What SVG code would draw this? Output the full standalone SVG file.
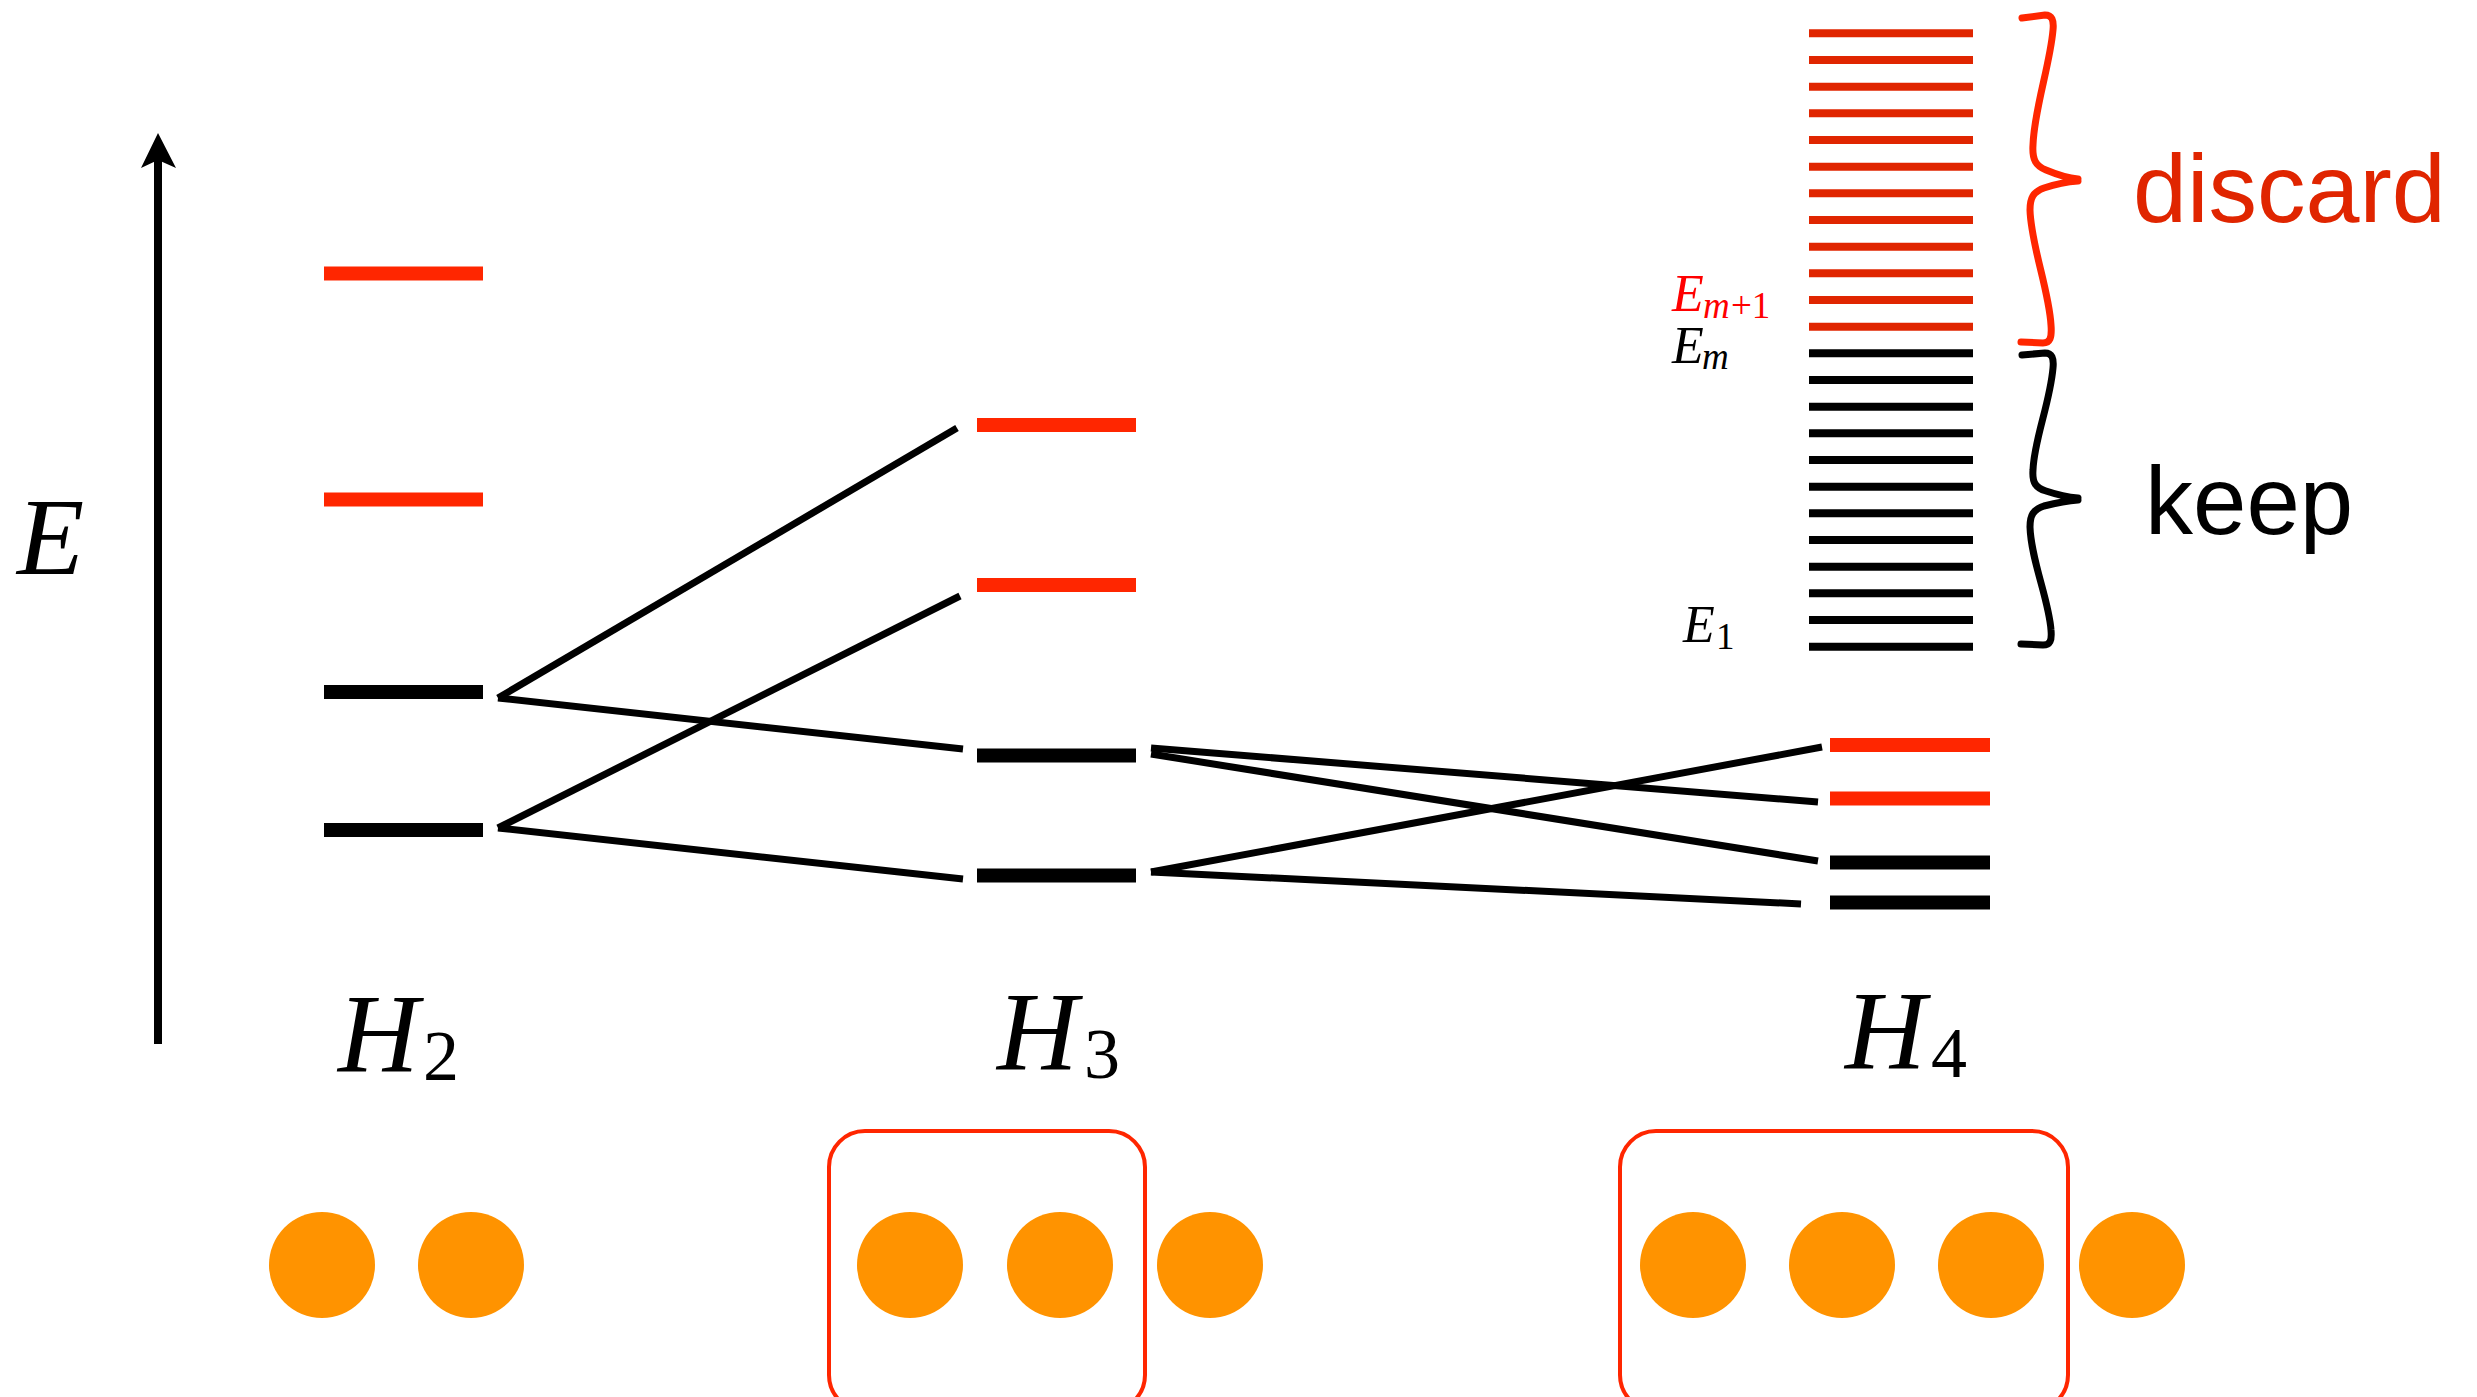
<svg xmlns="http://www.w3.org/2000/svg" width="2477" height="1397" viewBox="0 0 2477 1397">
<style>
.lvr{stroke:#ff2600;stroke-width:14}
.lvb{stroke:#000;stroke-width:14}
.sr{stroke:#e02500;stroke-width:8}
.sb{stroke:#000;stroke-width:8}
.conn line{stroke:#000;stroke-width:7}
.math{font-family:"Liberation Serif","DejaVu Serif",serif}
.it{font-style:italic}
.sans{font-family:"Liberation Sans",Arial,sans-serif}
.dot{fill:#ff9300}
.box{fill:none;stroke:#ff2600;stroke-width:4}
.brace{fill:none;stroke-width:7;stroke-linecap:round;stroke-linejoin:round}
</style>
<rect width="2477" height="1397" fill="#fff"/>
<g id="axis">
<line x1="158" y1="1044" x2="158" y2="158" stroke="#000" stroke-width="8"/>
<polygon points="158,133 141,168 158,160 176,168" fill="#000"/>
<text class="math it" x="17" y="574" font-size="110">E</text>
</g>
<g id="H2">
<line class="lvr" x1="324" y1="273.5" x2="483" y2="273.5"/>
<line class="lvr" x1="324" y1="499.5" x2="483" y2="499.5"/>
<line class="lvb" x1="324" y1="692" x2="483" y2="692"/>
<line class="lvb" x1="324" y1="830" x2="483" y2="830"/>
<text class="math" y="1071" font-size="112"><tspan class="it" x="338">H</tspan><tspan x="423" y="1080" font-size="72">2</tspan></text>
</g>
<g id="H3">
<line class="lvr" x1="977" y1="425" x2="1136" y2="425"/>
<line class="lvr" x1="977" y1="585" x2="1136" y2="585"/>
<line class="lvb" x1="977" y1="755.5" x2="1136" y2="755.5"/>
<line class="lvb" x1="977" y1="875.5" x2="1136" y2="875.5"/>
<text class="math" y="1069" font-size="112"><tspan class="it" x="997">H</tspan><tspan x="1084" y="1078" font-size="72">3</tspan></text>
</g>
<g id="H4">
<line class="lvr" x1="1830" y1="745" x2="1990" y2="745"/>
<line class="lvr" x1="1830" y1="798.5" x2="1990" y2="798.5"/>
<line class="lvb" x1="1830" y1="862.5" x2="1990" y2="862.5"/>
<line class="lvb" x1="1830" y1="902.5" x2="1990" y2="902.5"/>
<text class="math" y="1068" font-size="112"><tspan class="it" x="1845">H</tspan><tspan x="1931" y="1077" font-size="72">4</tspan></text>
</g>
<g id="spectrum">
<line class="sr" x1="1809" y1="33.3" x2="1973" y2="33.3"/>
<line class="sr" x1="1809" y1="60" x2="1973" y2="60"/>
<line class="sr" x1="1809" y1="86.7" x2="1973" y2="86.7"/>
<line class="sr" x1="1809" y1="113.3" x2="1973" y2="113.3"/>
<line class="sr" x1="1809" y1="140" x2="1973" y2="140"/>
<line class="sr" x1="1809" y1="166.7" x2="1973" y2="166.7"/>
<line class="sr" x1="1809" y1="193.3" x2="1973" y2="193.3"/>
<line class="sr" x1="1809" y1="220" x2="1973" y2="220"/>
<line class="sr" x1="1809" y1="246.7" x2="1973" y2="246.7"/>
<line class="sr" x1="1809" y1="273.3" x2="1973" y2="273.3"/>
<line class="sr" x1="1809" y1="300" x2="1973" y2="300"/>
<line class="sr" x1="1809" y1="326.7" x2="1973" y2="326.7"/>
<line class="sb" x1="1809" y1="353.3" x2="1973" y2="353.3"/>
<line class="sb" x1="1809" y1="380" x2="1973" y2="380"/>
<line class="sb" x1="1809" y1="406.7" x2="1973" y2="406.7"/>
<line class="sb" x1="1809" y1="433.3" x2="1973" y2="433.3"/>
<line class="sb" x1="1809" y1="460" x2="1973" y2="460"/>
<line class="sb" x1="1809" y1="486.7" x2="1973" y2="486.7"/>
<line class="sb" x1="1809" y1="513.3" x2="1973" y2="513.3"/>
<line class="sb" x1="1809" y1="540" x2="1973" y2="540"/>
<line class="sb" x1="1809" y1="566.7" x2="1973" y2="566.7"/>
<line class="sb" x1="1809" y1="593.3" x2="1973" y2="593.3"/>
<line class="sb" x1="1809" y1="620" x2="1973" y2="620"/>
<line class="sb" x1="1809" y1="646.7" x2="1973" y2="646.7"/>
<text class="math" y="311" font-size="52" fill="#ff0000"><tspan class="it" x="1672">E</tspan><tspan class="it" x="1703" y="318" font-size="37">m</tspan><tspan x="1731" y="318" font-size="37">+1</tspan></text>
<text class="math" y="363" font-size="52" fill="#000"><tspan class="it" x="1672">E</tspan><tspan class="it" x="1702" y="369" font-size="37">m</tspan></text>
<text class="math" y="642" font-size="52" fill="#000"><tspan class="it" x="1683">E</tspan><tspan x="1716" y="649" font-size="37">1</tspan></text>
</g>
<g id="discard">
<path class="brace" stroke="#ff2600" d="M2022,18 L2045,15 C2052,15 2054,20 2053,30 C2050,65 2034,110 2033,145 C2032,160 2036,166 2046,170 C2058,175 2066,178 2078,179 M2078,181 C2064,182 2056,184 2044,188 C2033,192 2030,198 2030,210 C2031,245 2049,290 2051,325 C2052,338 2050,343 2043,343 L2021,342"/>
<text class="sans" x="2133" y="222" font-size="97" fill="#e02500">discard</text>
</g>
<g id="keep">
<path class="brace" stroke="#000" d="M2022,355 L2045,353 C2052,353 2054,358 2053,368 C2050,403 2034,440 2033,470 C2032,483 2036,488 2046,491 C2058,495 2066,497 2078,498 M2078,500 C2064,501 2056,503 2044,506 C2033,510 2030,515 2030,527 C2031,560 2049,600 2051,630 C2052,641 2050,645 2043,645 L2021,644"/>
<text class="sans" x="2145" y="534" font-size="96" fill="#000">keep</text>
</g>
<g id="connectors" class="conn">
<line x1="498" y1="698" x2="957" y2="428"/>
<line x1="498" y1="698" x2="963" y2="749"/>
<line x1="498" y1="828" x2="960" y2="596"/>
<line x1="498" y1="828" x2="963" y2="879"/>
<line x1="1151" y1="748" x2="1818" y2="802"/>
<line x1="1151" y1="754" x2="1818" y2="861"/>
<line x1="1151" y1="872" x2="1822" y2="747"/>
<line x1="1151" y1="872" x2="1801" y2="904"/>
</g>
<g id="chain2">
<circle class="dot" cx="322" cy="1265" r="53"/>
<circle class="dot" cx="471" cy="1265" r="53"/>
</g>
<g id="chain3">
<rect class="box" x="829" y="1131" width="316" height="280" rx="36"/>
<circle class="dot" cx="910" cy="1265" r="53"/>
<circle class="dot" cx="1060" cy="1265" r="53"/>
<circle class="dot" cx="1210" cy="1265" r="53"/>
</g>
<g id="chain4">
<rect class="box" x="1620" y="1131" width="448" height="280" rx="36"/>
<circle class="dot" cx="1693" cy="1265" r="53"/>
<circle class="dot" cx="1842" cy="1265" r="53"/>
<circle class="dot" cx="1991" cy="1265" r="53"/>
<circle class="dot" cx="2132" cy="1265" r="53"/>
</g>
</svg>
